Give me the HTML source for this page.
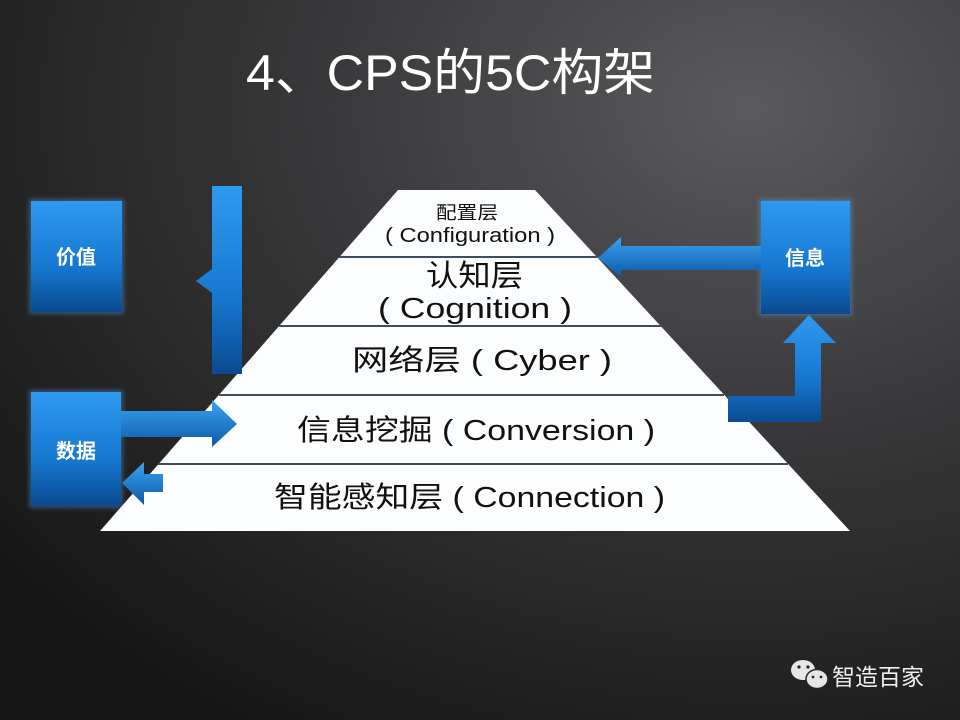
<!DOCTYPE html>
<html><head><meta charset="utf-8"><style>
html,body{margin:0;padding:0;width:960px;height:720px;overflow:hidden;background:#222}
svg{display:block}
text{font-family:"Liberation Sans","Noto Sans CJK SC",sans-serif}
</style></head><body>
<svg width="960" height="720" viewBox="0 0 960 720" xmlns="http://www.w3.org/2000/svg">
<defs>
<radialGradient id="bg" cx="0.78" cy="0.15" r="1.0">
<stop offset="0" stop-color="#5a5a5c"/>
<stop offset="0.45" stop-color="#38383a"/>
<stop offset="1" stop-color="#161616"/>
</radialGradient>
<linearGradient id="bl" x1="0" y1="0" x2="0" y2="1">
<stop offset="0" stop-color="#2e9af0"/>
<stop offset="0.6" stop-color="#1677d0"/>
<stop offset="1" stop-color="#0a4a90"/>
</linearGradient>
<linearGradient id="bh" x1="0" y1="0" x2="0" y2="1">
<stop offset="0" stop-color="#3aa2f2"/>
<stop offset="1" stop-color="#0c5aa8"/>
</linearGradient>
<filter id="gl" x="-20%" y="-20%" width="140%" height="140%"><feGaussianBlur stdDeviation="2.5"/></filter>
</defs>
<rect width="960" height="720" fill="url(#bg)"/>
<text x="246" y="90" fill="#fff" font-size="50" textLength="409" lengthAdjust="spacingAndGlyphs">4、CPS的5C构架</text>

<polygon points="398,190 535,190 850,531 100,531" fill="#fbfdfe"/>
<g stroke="#3d4e5a" stroke-width="2">
<line x1="339" y1="257" x2="597" y2="257"/>
<line x1="279" y1="326" x2="661" y2="326"/>
<line x1="219" y1="395" x2="724" y2="395"/>
<line x1="158" y1="464" x2="788" y2="464"/>
</g>
<g fill="#111" lengthAdjust="spacingAndGlyphs">
<text x="436" y="219" font-size="18" textLength="62" lengthAdjust="spacingAndGlyphs">配置层</text>
<text x="385" y="242" font-size="20" textLength="170" lengthAdjust="spacingAndGlyphs">( Configuration )</text>
<text x="426" y="286" font-size="30" textLength="97" lengthAdjust="spacingAndGlyphs">认知层</text>
<text x="378" y="318" font-size="29" textLength="194" lengthAdjust="spacingAndGlyphs">( Cognition )</text>
<text x="352" y="370" font-size="29" textLength="260" lengthAdjust="spacingAndGlyphs">网络层 ( Cyber )</text>
<text x="297" y="440" font-size="29" textLength="358" lengthAdjust="spacingAndGlyphs">信息挖掘 ( Conversion )</text>
<text x="274" y="507" font-size="29" textLength="391" lengthAdjust="spacingAndGlyphs">智能感知层 ( Connection )</text>
</g>

<g fill="#5fb4ff" opacity="0.35" filter="url(#gl)">
<rect x="29" y="199" width="95" height="115"/>
<rect x="29" y="390" width="94" height="118"/>
<rect x="759" y="199" width="93" height="117"/>
</g>
<rect x="31" y="201" width="91" height="111" fill="url(#bl)"/>
<rect x="31" y="392" width="90" height="114" fill="url(#bl)"/>
<rect x="761" y="201" width="89" height="113" fill="url(#bl)"/>
<g fill="#fff" font-size="20" font-weight="bold" text-anchor="middle">
<text x="76" y="264">价值</text>
<text x="76" y="458">数据</text>
<text x="805" y="265">信息</text>
</g>

<polygon points="212,186 242,186 242,374 212,374 212,293 196,281 212,269" fill="url(#bl)"/>
<polygon points="121,411 212,411 212,400 237,424 212,447 212,437 121,437" fill="url(#bh)"/>
<polygon points="163,474 163,492 144,492 144,505 122,483 144,462 144,474" fill="url(#bh)"/>
<polygon points="761,246 621,246 621,237 598,258 621,277 621,270 761,270" fill="url(#bh)"/>
<polygon points="728,396 795,396 795,343 783,343 809,315 836,343 821,343 821,422 728,422" fill="url(#bl)"/>

<g fill="#e6e6e6">
<ellipse cx="803" cy="670" rx="12" ry="10"/>
<ellipse cx="817" cy="679" rx="11" ry="9.5" stroke="#262626" stroke-width="1.5"/>
</g>
<g fill="#262626"><circle cx="799" cy="667" r="1.6"/><circle cx="808" cy="667" r="1.6"/><circle cx="813" cy="677" r="1.4"/><circle cx="821" cy="677" r="1.4"/></g>
<text x="832" y="685" fill="#eee" font-size="23">智造百家</text>
</svg>
</body></html>
